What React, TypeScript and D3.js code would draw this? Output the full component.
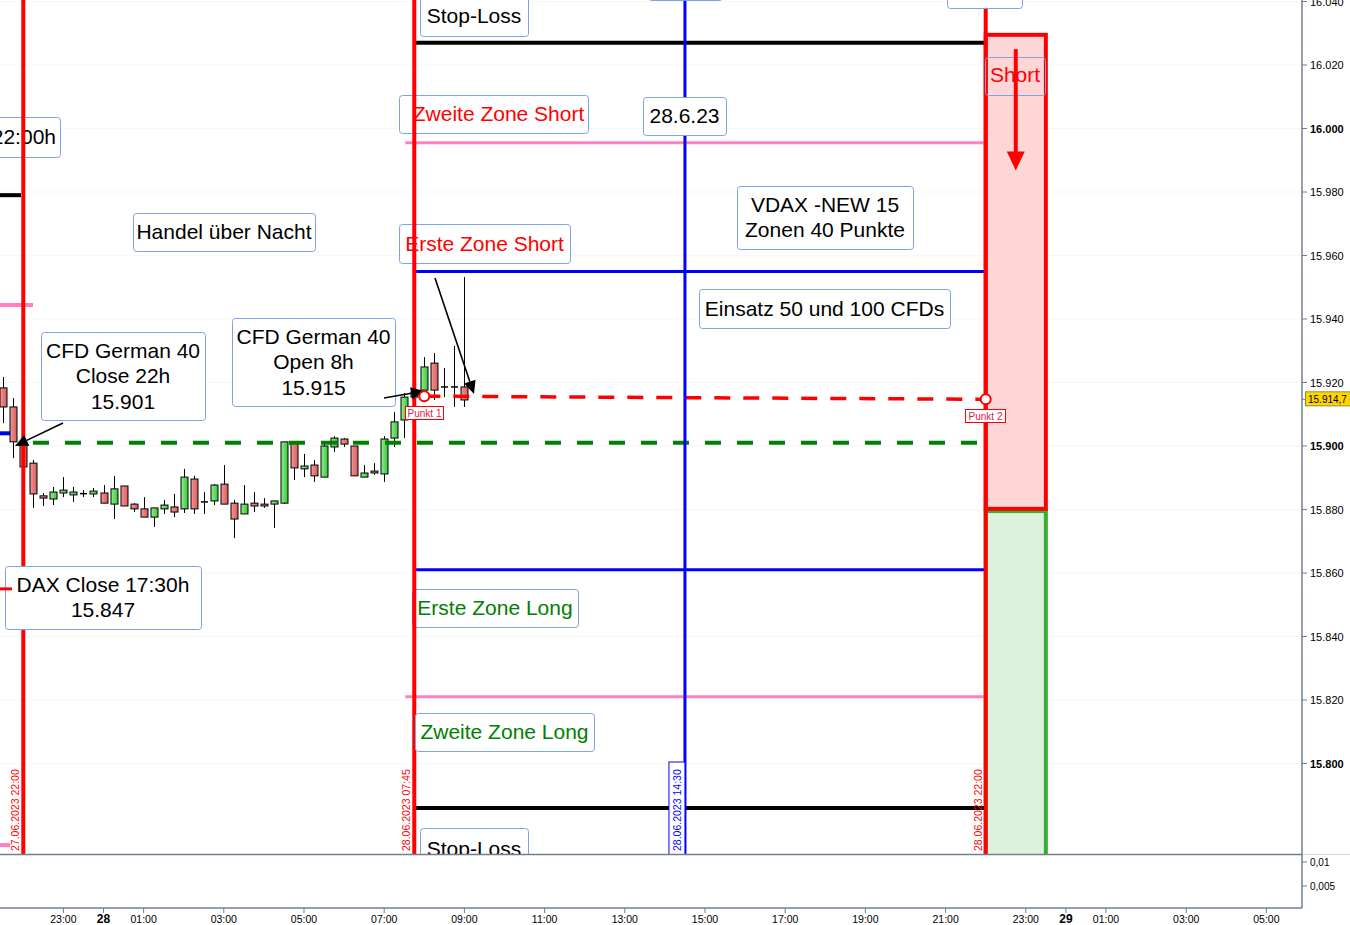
import React from "react";
import * as d3 from "d3";

// ---------------- data ----------------
// 15-minute candles, time in hours relative to 28.06.2023 00:00 (first candle 27.06 21:30)
const candleStartHour = -2.5;
const candleStepHour = 0.25;
const opens = [15918.3, 15912.3, 15900.9, 15894.6, 15884.3, 15883.3, 15885.2, 15884.6, 15884.9, 15884.9, 15885.2, 15881.7, 15887.4, 15881.7, 15880.2, 15877.6, 15880.2, 15880.8, 15880.2, 15889.6, 15882.4, 15882.7, 15888.0, 15882.0, 15878.6, 15882.0, 15881.7, 15881.7, 15882.0, 15900.9, 15892.8, 15894.0, 15890.2, 15899.7, 15902.2, 15900.0, 15890.2, 15892.1, 15891.2, 15902.5, 15908.2, 15915.4, 15917.6, 15926.1, 15918.6, 15918.6, 15918.6];
const highs = [15921.7, 15915.1, 15901.6, 15895.6, 15885.2, 15887.1, 15890.2, 15887.1, 15886.1, 15886.8, 15887.7, 15890.6, 15887.4, 15882.0, 15883.9, 15880.5, 15883.0, 15884.9, 15892.8, 15890.6, 15885.5, 15888.0, 15894.0, 15883.0, 15887.7, 15885.5, 15883.6, 15882.7, 15901.3, 15900.9, 15897.5, 15895.6, 15900.9, 15903.1, 15902.5, 15900.0, 15894.0, 15894.6, 15903.1, 15910.7, 15916.7, 15918.3, 15928.0, 15929.3, 15924.6, 15931.5, 15953.2];
const lows = [15907.2, 15896.2, 15892.4, 15880.5, 15881.1, 15881.4, 15883.9, 15882.4, 15883.9, 15883.9, 15882.0, 15877.0, 15881.1, 15879.2, 15877.6, 15874.5, 15878.6, 15877.6, 15878.9, 15878.6, 15878.6, 15881.4, 15881.7, 15871.0, 15878.6, 15879.2, 15880.5, 15874.2, 15881.7, 15889.3, 15890.2, 15888.7, 15890.2, 15898.1, 15899.7, 15890.6, 15890.2, 15890.9, 15888.7, 15899.7, 15902.5, 15912.9, 15917.6, 15914.5, 15915.4, 15912.3, 15912.3];
const closes = [15912.3, 15901.3, 15893.4, 15884.9, 15883.6, 15885.5, 15886.1, 15885.5, 15885.0, 15885.8, 15882.0, 15886.5, 15881.1, 15880.2, 15877.6, 15880.5, 15881.4, 15879.2, 15890.2, 15880.2, 15882.4, 15887.7, 15881.7, 15877.0, 15881.7, 15881.1, 15881.1, 15882.7, 15901.3, 15893.1, 15893.7, 15890.6, 15900.0, 15902.5, 15900.6, 15890.6, 15891.5, 15891.5, 15902.2, 15907.6, 15915.4, 15917.0, 15924.9, 15917.6, 15918.6, 15918.6, 15914.5];

// price axis ticks
const priceTicks = [15800, 15820, 15840, 15860, 15880, 15900, 15920, 15940, 15960, 15980, 16000, 16020, 16040];
const boldPriceTicks = [15800, 15900, 16000];
// time axis ticks (hours from 28.06 00:00)
const timeTickHours = [-1, 0, 1, 3, 5, 7, 9, 11, 13, 15, 17, 19, 21, 23, 24, 25, 27, 29];
const timeTickLabels = ["23:00", "28", "01:00", "03:00", "05:00", "07:00", "09:00", "11:00", "13:00", "15:00", "17:00", "19:00", "21:00", "23:00", "29", "01:00", "03:00", "05:00"];
const volumeTickValues = [0.01, 0.005];
const volumeTickLabels = ["0,01", "0,005"];

// vertical time markers
const markerHours = [-2, 7.75, 14.5, 22];
const markerLabels = ["27.06.2023 22:00", "28.06.2023 07:45", "28.06.2023 14:30", "28.06.2023 22:00"];
const markerColors = ["#ff0000", "#ff0000", "#0000ff", "#ff0000"];

// zone levels for 28.06
const stopShort = 16027;
const zone2Short = 15995.5;
const zone1Short = 15955;
const zone1Long = 15861;
const zone2Long = 15821;
const stopLong = 15786;
// previous day levels (ending at 22:00)
const prevBlack = 15979;
const prevPink = 15944.4;
const prevBlue = 15904;
const prevRed = 15855;
const prevPinkLow = 15774.3;
// closes / points
const closeCFD = 15901;
const punkt1 = { h: 8.0, p: 15915.7 };
const punkt2 = { h: 22.0, p: 15914.7 };
const lastPrice = "15.914,7";
// trade boxes
const shortBox = { h0: 22, h1: 23.5, pTop: 16029.5, pBot: 15880.2 };
const longBox = { h0: 22, h1: 23.5, pTop: 15879.5, pBot: 15700 };
const shortArrow = { h: 22.75, p0: 16025, p1: 15986.8 };

// ---------------- layout ----------------
const W = 1350;
const H = 925;
const plotRight = 1302;
const plotBottom = 854;
const axisBottom = 908;
const FONT = "'Liberation Sans', Arial, sans-serif";
const RED = "#ff0000";
const GREEN_T = "#008000";
const LABEL_SIZE = 21;

const x = d3.scaleLinear().domain([0, 24]).range([103.5, 103.5 + 24 * 40.1]);
const y = d3.scaleLinear().domain([15800, 16000]).range([763.5, 128.5]);
const yVol = d3.scaleLinear().domain([0, 0.01]).range([910, 862]);
const de = d3.formatLocale({ decimal: ",", thousands: ".", grouping: [3], currency: ["", "€"] });
const fmtPrice = de.format(",.0f");

type Box = { x: number; y: number; w: number; h: number; lines: string[]; color?: string; anchorEnd?: number; dx?: number; under?: boolean };
const boxes: Box[] = [
  { x: 420, y: -5, w: 108, h: 41, lines: ["Stop-Loss"] },
  { x: 648, y: -40, w: 74, h: 40, lines: [] },
  { x: 947, y: -32, w: 75, h: 40, lines: [] },
  { x: 399, y: 95, w: 189, h: 38, lines: ["Zweite Zone Short"], color: RED, dx: 5, under: true },
  { x: 643, y: 97, w: 83, h: 38, lines: ["28.6.23"] },
  { x: -80, y: 117, w: 140, h: 40, lines: ["22:00h"], anchorEnd: 56, under: true },
  { x: 133, y: 213, w: 182, h: 38, lines: ["Handel über Nacht"] },
  { x: 399, y: 224, w: 171, h: 39, lines: ["Erste Zone Short"], color: RED, under: true },
  { x: 737, y: 186, w: 176, h: 63, lines: ["VDAX -NEW 15", "Zonen 40 Punkte"] },
  { x: 699, y: 289, w: 251, h: 39, lines: ["Einsatz 50 und 100 CFDs"] },
  { x: 41, y: 332, w: 164, h: 88, lines: ["CFD German 40", "Close 22h", "15.901"] },
  { x: 232, y: 318, w: 163, h: 88, lines: ["CFD German 40", "Open 8h", "15.915"] },
  { x: 5, y: 566, w: 196, h: 63, lines: ["DAX Close 17:30h", "15.847"] },
  { x: 412, y: 589, w: 166, h: 38, lines: ["Erste Zone Long"], color: GREEN_T, under: true },
  { x: 415, y: 713, w: 179, h: 38, lines: ["Zweite Zone Long"], color: GREEN_T },
  { x: 420, y: 828, w: 108, h: 42, lines: ["Stop-Loss"] },
];

const arrows = [
  { x1: 63, y1: 423, x2: 15, y2: 446 },
  { x1: 384, y1: 398, x2: 424, y2: 391 },
  { x1: 435, y1: 278, x2: 474, y2: 394 },
];

function Arrow({ x1, y1, x2, y2 }: { x1: number; y1: number; x2: number; y2: number }) {
  const a = Math.atan2(y2 - y1, x2 - x1);
  const L = 13, Wd = 6;
  const bx = x2 - L * Math.cos(a), by = y2 - L * Math.sin(a);
  const px = -Math.sin(a) * Wd, py = Math.cos(a) * Wd;
  return (
    <g>
      <line x1={x1} y1={y1} x2={bx} y2={by} stroke="#000" strokeWidth={1.6} />
      <polygon points={`${x2},${y2} ${bx + px},${by + py} ${bx - px},${by - py}`} fill="#000" />
    </g>
  );
}

function LabelBox({ b }: { b: Box }) {
  const n = b.lines.length;
  const c0 = b.y + b.h / 2 - ((n - 1) * 25.5) / 2;
  return (
    <g>
      <rect x={b.x + 0.5} y={b.y + 0.5} width={b.w} height={b.h} rx={3} fill="#fff" stroke="#7ca3e6" strokeWidth={1} />
      {b.lines.map((t, j) => (
        <text
          key={j}
          x={(b.anchorEnd !== undefined ? b.anchorEnd : b.x + b.w / 2) + (b.dx || 0)}
          y={c0 + j * 25.5 + 7}
          fontSize={LABEL_SIZE}
          textAnchor={b.anchorEnd !== undefined ? "end" : "middle"}
          fill={b.color || "#000"}
        >
          {t}
        </text>
      ))}
    </g>
  );
}

export default function App() {
  const candles = opens.map((o, i) => ({
    t: candleStartHour + i * candleStepHour,
    o,
    h: highs[i],
    l: lows[i],
    c: closes[i],
  }));
  const bw = 7;
  const zoneX0 = x(7.75);
  const zoneX1 = x(22);
  const ax = x(shortArrow.h);
  const ay = y(shortArrow.p1);

  return (
    <svg width={W} height={H} style={{ position: "fixed", left: 0, top: 0, background: "#fff" }} fontFamily={FONT}>
      <defs>
        <clipPath id="plot">
          <rect x={0} y={0} width={plotRight} height={plotBottom} />
        </clipPath>
        <linearGradient id="gUp" x1="0" x2="1" y1="0" y2="0">
          <stop offset="0" stopColor="#8ef08e" />
          <stop offset="1" stopColor="#3cc43c" />
        </linearGradient>
        <linearGradient id="gDn" x1="0" x2="1" y1="0" y2="0">
          <stop offset="0" stopColor="#f29a9a" />
          <stop offset="1" stopColor="#d95a5a" />
        </linearGradient>
      </defs>
      <rect x={0} y={0} width={W} height={H} fill="#fff" />

      <g clipPath="url(#plot)">
        {/* faint grid */}
        {priceTicks.map((p) => (
          <line key={"g" + p} x1={0} x2={plotRight} y1={y(p)} y2={y(p)} stroke="#f7f7f7" strokeWidth={1} />
        ))}

        {/* trade boxes */}
        <rect x={x(longBox.h0)} y={y(longBox.pTop)} width={x(longBox.h1) - x(longBox.h0)} height={y(longBox.pBot) - y(longBox.pTop)} fill="#dcf2dc" stroke="#33b033" strokeWidth={4} />
        <rect x={x(shortBox.h0)} y={y(shortBox.pTop)} width={x(shortBox.h1) - x(shortBox.h0)} height={y(shortBox.pBot) - y(shortBox.pTop)} fill="#ffd6d6" stroke={RED} strokeWidth={4} />

        {/* previous day levels */}
        <line x1={0} x2={21} y1={y(prevBlack)} y2={y(prevBlack)} stroke="#000" strokeWidth={4} />
        <line x1={0} x2={33} y1={y(prevPink)} y2={y(prevPink)} stroke="#ff80c0" strokeWidth={4} />
        <line x1={0} x2={14} y1={y(prevBlue)} y2={y(prevBlue)} stroke="#0000ff" strokeWidth={4} />
        <line x1={0} x2={10} y1={y(prevPinkLow)} y2={y(prevPinkLow)} stroke="#ff80c0" strokeWidth={4} />

        {/* zone lines */}
        <line x1={zoneX0} x2={zoneX1} y1={y(stopShort)} y2={y(stopShort)} stroke="#000" strokeWidth={4} />
        <line x1={zoneX0 - 9} x2={zoneX1} y1={y(zone2Short)} y2={y(zone2Short)} stroke="#ff80c0" strokeWidth={3} />
        <line x1={zoneX0} x2={zoneX1} y1={y(zone1Short)} y2={y(zone1Short)} stroke="#0000ff" strokeWidth={3} />
        <line x1={zoneX0} x2={zoneX1} y1={y(zone1Long)} y2={y(zone1Long)} stroke="#0000ff" strokeWidth={3} />
        <line x1={zoneX0 - 9} x2={zoneX1} y1={y(zone2Long)} y2={y(zone2Long)} stroke="#ff80c0" strokeWidth={3} />
        <line x1={zoneX0} x2={zoneX1} y1={y(stopLong)} y2={y(stopLong)} stroke="#000" strokeWidth={4} />

        {/* candles */}
        {candles.map((d, i) => {
          const cx = Math.round(x(d.t)) + 0.5;
          const up = d.c > d.o;
          const flat = Math.abs(d.c - d.o) < 0.3;
          const top = y(Math.max(d.o, d.c));
          const bot = y(Math.min(d.o, d.c));
          return (
            <g key={i}>
              <line x1={cx} x2={cx} y1={y(d.h)} y2={y(d.l)} stroke="#000" strokeWidth={1} />
              {flat ? (
                <line x1={cx - bw / 2} x2={cx + bw / 2} y1={top} y2={top} stroke="#000" strokeWidth={1.5} />
              ) : (
                <rect x={cx - bw / 2} y={top} width={bw} height={Math.max(1, bot - top)} fill={up ? "url(#gUp)" : "url(#gDn)"} stroke="#000" strokeWidth={1} />
              )}
            </g>
          );
        })}

        {/* dashed lines */}
        <line x1={33} x2={zoneX1} y1={y(closeCFD)} y2={y(closeCFD)} stroke="#008000" strokeWidth={4} strokeDasharray="16,16" />
        <line x1={x(punkt1.h)} x2={x(punkt2.h)} y1={y(punkt1.p)} y2={y(punkt2.p)} stroke={RED} strokeWidth={3.5} strokeDasharray="16,13" />

        {/* labels that lie under the vertical markers */}
        {boxes.filter((b) => b.under).map((b, i) => (
          <LabelBox key={"bu" + i} b={b} />
        ))}

        {/* vertical markers */}
        {markerHours.map((h, i) => (
          <line key={"v" + i} x1={x(h)} x2={x(h)} y1={0} y2={plotBottom} stroke={markerColors[i]} strokeWidth={markerColors[i] === RED ? 4 : 3} />
        ))}
        {markerHours.map((h, i) => {
          const tx = x(h) - 4;
          return (
            <g key={"vl" + i}>
              {markerColors[i] === "#0000ff" && (
                <rect x={x(h) - 16} y={762} width={16} height={95} fill="#fff" stroke="#0000ff" strokeWidth={1} />
              )}
              <text transform={`translate(${tx},851) rotate(-90)`} fontSize={10.5} fill={markerColors[i]}>
                {markerLabels[i]}
              </text>
            </g>
          );
        })}

        {/* labels above the markers */}
        {boxes.filter((b) => !b.under).map((b, i) => (
          <LabelBox key={"bo" + i} b={b} />
        ))}

        {/* Short label inside box */}
        <rect x={985.5} y={57.5} width={60} height={38} rx={3} fill="none" stroke="#7ca3e6" strokeWidth={1} />
        <text x={1015} y={82} fontSize={LABEL_SIZE} textAnchor="middle" fill={RED}>Short</text>

        {/* short arrow */}
        <line x1={ax} x2={ax} y1={y(shortArrow.p0)} y2={ay - 14} stroke={RED} strokeWidth={4} />
        <polygon points={`${ax},${ay} ${ax - 9},${ay - 19} ${ax + 9},${ay - 19}`} fill={RED} />

        <line x1={0} x2={12} y1={y(prevRed)} y2={y(prevRed)} stroke={RED} strokeWidth={3} />

        {/* arrows */}
        {arrows.map((a, i) => (
          <Arrow key={"a" + i} {...a} />
        ))}

        {/* Punkt markers */}
        <rect x={405.5} y={406.5} width={38} height={13} fill="#fff" stroke={RED} strokeWidth={1} />
        <text x={424.5} y={417} fontSize={10} textAnchor="middle" fill="#e0204a">Punkt 1</text>
        <rect x={965.5} y={409.5} width={40} height={13} fill="#fff" stroke={RED} strokeWidth={1} />
        <text x={985.5} y={420} fontSize={10} textAnchor="middle" fill="#e0204a">Punkt 2</text>
        <circle cx={x(punkt1.h)} cy={y(punkt1.p)} r={5} fill="#fff" stroke={RED} strokeWidth={2} />
        <circle cx={x(punkt2.h)} cy={y(punkt2.p)} r={5} fill="#fff" stroke={RED} strokeWidth={2} />
      </g>

      {/* frame lines */}
      <line x1={0} x2={plotRight} y1={plotBottom + 0.5} y2={plotBottom + 0.5} stroke="#6f7f8f" strokeWidth={1.5} />
      <line x1={plotRight} x2={W} y1={plotBottom + 0.5} y2={plotBottom + 0.5} stroke="#d8d8d8" strokeWidth={1} />
      <line x1={0} x2={plotRight} y1={axisBottom} y2={axisBottom} stroke="#6f7f8f" strokeWidth={1.5} />
      <line x1={plotRight} x2={plotRight} y1={0} y2={axisBottom} stroke="#6f7f8f" strokeWidth={1.5} />

      {/* price axis */}
      {priceTicks.map((p) => {
        const bold = boldPriceTicks.includes(p);
        return (
          <g key={"t" + p}>
            <line x1={plotRight} x2={plotRight + 5} y1={y(p)} y2={y(p)} stroke="#6f7f8f" strokeWidth={1} />
            <text x={plotRight + 8} y={y(p) + 4} fontSize={11} fontWeight={bold ? "bold" : "normal"} fill="#000">
              {fmtPrice(p)}
            </text>
          </g>
        );
      })}
      {/* last price marker */}
      <line x1={plotRight} x2={plotRight + 4} y1={y(punkt2.p)} y2={y(punkt2.p)} stroke="#6f7f8f" />
      <rect x={plotRight + 3.5} y={y(punkt2.p) - 7.5} width={48} height={14} fill="#ffd700" stroke="#a08a20" strokeWidth={1} />
      <text x={plotRight + 6} y={y(punkt2.p) + 3.5} fontSize={10} fill="#000">{lastPrice}</text>

      {/* volume axis */}
      {volumeTickValues.map((v, i) => {
        const yy = yVol(v);
        return (
          <g key={"vt" + i}>
            <line x1={plotRight} x2={plotRight + 5} y1={yy} y2={yy} stroke="#6f7f8f" />
            <text x={plotRight + 8} y={yy + 4} fontSize={10} fill="#000">{volumeTickLabels[i]}</text>
          </g>
        );
      })}

      {/* time axis */}
      {timeTickHours.map((h, i) => {
        const bold = timeTickLabels[i].length === 2;
        return (
          <g key={"x" + i}>
            <line x1={x(h)} x2={x(h)} y1={axisBottom} y2={axisBottom + 5} stroke="#6f7f8f" />
            <text x={x(h)} y={923} fontSize={bold ? 12 : 10.5} fontWeight={bold ? "bold" : "normal"} textAnchor="middle" fill="#000">
              {timeTickLabels[i]}
            </text>
          </g>
        );
      })}
    </svg>
  );
}
